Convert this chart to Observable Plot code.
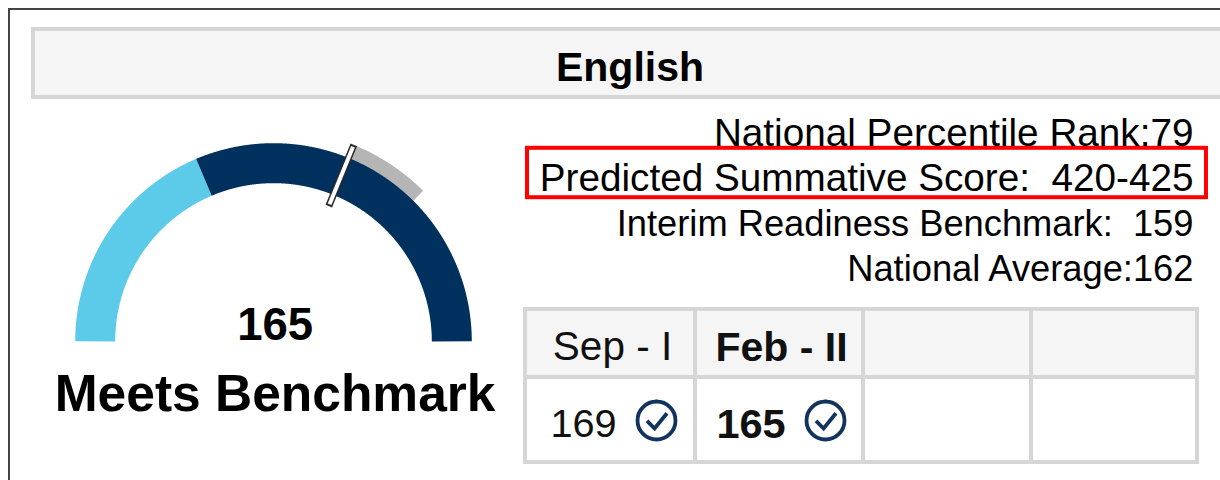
<!DOCTYPE html>
<html>
<head>
<meta charset="utf-8">
<script src="https://cdn.jsdelivr.net/npm/d3@7"></script>
<script src="https://cdn.jsdelivr.net/npm/@observablehq/plot@0.6"></script>
<style>
  html, body { margin: 0; padding: 0; background: #fff; }
  #page { position: relative; width: 1220px; height: 480px; overflow: hidden; font-family: "Liberation Sans", Arial, sans-serif; color: #000; }
  #frame { position: absolute; left: 8px; top: 8px; width: 1300px; height: 600px; border: 2px solid #444; box-sizing: border-box; }
  #header { position: absolute; left: 31px; top: 27px; width: 1300px; height: 72px; box-sizing: border-box; background: #f5f5f5; border: 4px solid #d6d6d6; }
  #subject { position: absolute; left: 430px; width: 400px; top: 40px; text-align: center; font-weight: 700; font-size: 41px; line-height: 54px; }
  .layer { position: absolute; }
  .layer svg { overflow: visible; display: block; background: transparent; }
  .layer text { white-space: pre; }
</style>
</head>
<body>
<div id="page">
  <div id="frame"></div>
  <div id="header"></div>
  <div id="subject"></div>
  <div id="gauge" class="layer" style="left:35px; top:103px"></div>
  <div id="metrics" class="layer" style="left:515px; top:90px"></div>
  <div id="table" class="layer" style="left:515px; top:299px"></div>
</div>
<script>
const subject = "English";
const fontFamily = '"Liberation Sans", Arial, sans-serif';

// Gauge values
const gaugeMin = 150.1;
const gaugeMax = 174;
const benchmark = 159;
const score = 165;
const rangeEnd = 168;
const status = "Meets Benchmark";
const colBelow = "#5bcbe9";
const colAbove = "#00305e";
const colRange = "#b5b5b5";

// Metric lines
const metricLabels = ["National Percentile Rank:", "Predicted Summative Score:  ", "Interim Readiness Benchmark:  ", "National Average:"];
const metricValues = ["79", "420-425", "159", "162"];
const highlighted = "Predicted Summative Score:  ";
const narrowed = ["Interim Readiness Benchmark:  ", "National Average:"];

// Table
const periods = ["Sep - I", "Feb - II", "", ""];
const periodScores = [169, 165, null, null];
const currentPeriod = "Feb - II";
const lineColor = "#d6d6d6";
const headFill = "#f5f5f5";
const iconColor = "#12335e";

document.getElementById("subject").textContent = subject;

// ---------- Gauge ----------
const angle = v => Math.PI * (1 - (v - gaugeMin) / (gaugeMax - gaugeMin));
const polar = (v, r) => ({x: r * Math.cos(angle(v)), y: r * Math.sin(angle(v))});
const arc = (a, b, r) => d3.range(a, b, 0.02).concat(b).map(v => polar(v, r));

const bandR = 178 / 198;
const rangeR = 204 / 198;
const gaugeText = (text, y, size) =>
  Plot.text([text], {x: () => 0.008, y: () => y, text: d => d, fontSize: size, fontWeight: 700, fontFamily, fill: "#000", lineAnchor: "bottom"});

document.getElementById("gauge").append(Plot.plot({
  width: 476, height: 337, margin: 0,
  x: {domain: [-1.2, 1.2], axis: null},
  y: {domain: [-0.5, 1.2], axis: null},
  marks: [
    Plot.line(arc(score, rangeEnd, rangeR), {x: "x", y: "y", stroke: colRange, strokeWidth: 16, strokeLinecap: "butt", curve: "linear"}),
    Plot.line(arc(gaugeMin, benchmark, bandR), {x: "x", y: "y", stroke: colBelow, strokeWidth: 40, strokeLinecap: "butt", curve: "linear"}),
    Plot.line(arc(benchmark, gaugeMax, bandR), {x: "x", y: "y", stroke: colAbove, strokeWidth: 40, strokeLinecap: "butt", curve: "linear"}),
    Plot.line([polar(score, 146 / 198), polar(score, 212 / 198)], {x: "x", y: "y", stroke: "#2b2b2b", strokeWidth: 7, strokeLinecap: "butt"}),
    Plot.line([polar(score, 148 / 198), polar(score, 210 / 198)], {x: "x", y: "y", stroke: "#fff", strokeWidth: 4, strokeLinecap: "butt"}),
    gaugeText(String(score), 0.005, 45.5),
    gaugeText(status, -0.352, 51.5)
  ]
}));

// ---------- Metrics ----------
const metricRows = metricLabels.map((label, i) => ({label, text: label + metricValues[i]}));
document.getElementById("metrics").append(Plot.plot({
  width: 705, height: 214.67, marginTop: 14, marginBottom: 18, marginLeft: 12, marginRight: 14,
  x: {domain: [0, 1], axis: null},
  y: {domain: metricLabels, padding: 0, axis: null},
  marks: [
    Plot.barX(metricRows.filter(d => d.label === highlighted), {x1: () => 0, x2: () => 1, y: "label", fill: "none", stroke: "#ff0000", strokeWidth: 4, insetTop: -2.2, insetBottom: -2.2}),
    Plot.text(metricRows, {x: () => 1, y: "label", text: "text", textAnchor: "end", dx: -13, dy: 6, fontSize: d => narrowed.includes(d.label) ? 36.3 : 38.7, fontFamily, fill: "#000"})
  ]
}));

// ---------- Table ----------
const colEdges = [0, 170, 338, 506, 672];
const rowEdges = {head: [0, 68], body: [68, 153]};
const rows = periods.map((period, i) => ({x1: colEdges[i], x2: colEdges[i + 1], mid: (colEdges[i] + colEdges[i + 1]) / 2, period, value: periodScores[i]}));
const scored = rows.filter(d => d.value != null);
const checkIcon = {
  draw(ctx, size) {
    const r = Math.sqrt(size / Math.PI);
    ctx.moveTo(r, 0);
    ctx.arc(0, 0, r, 0, 2 * Math.PI);
    ctx.moveTo(-r * 0.5, r * 0.02);
    ctx.lineTo(-r * 0.1, r * 0.42);
    ctx.lineTo(r * 0.55, -r * 0.38);
    ctx.moveTo(0, -r);
    ctx.lineTo(0, -r - 2);
  }
};
const isCurrent = d => d.period === currentPeriod;
const cellMark = ([y1, y2], fill) =>
  Plot.rect(rows, {x1: "x1", x2: "x2", y1: () => y1, y2: () => y2, fill, stroke: lineColor, strokeWidth: 4});
const headMark = (data, bold, fontSize) =>
  Plot.text(data, {x: "mid", y: () => 38, text: "period", dx: 2, fontSize, fontWeight: bold ? 700 : 400, fontFamily, fill: "#111"});
const valueMark = (data, bold, dx, fontSize) =>
  Plot.text(data, {x: "mid", y: () => 115, text: d => String(d.value), dx, fontSize, fontWeight: bold ? 700 : 400, fontFamily, fill: "#111"});

document.getElementById("table").append(Plot.plot({
  width: 695, height: 170, marginTop: 10, marginBottom: 7, marginLeft: 10, marginRight: 13,
  x: {domain: [0, 672], axis: null},
  y: {domain: [153, 0], axis: null},
  marks: [
    cellMark(rowEdges.head, headFill),
    cellMark(rowEdges.body, "#fff"),
    headMark(scored.filter(d => !isCurrent(d)), false, 40.5),
    headMark(scored.filter(isCurrent), true, 41),
    valueMark(scored.filter(d => !isCurrent(d)), false, -27, 39.7),
    valueMark(scored.filter(isCurrent), true, -28.5, 41.5),
    Plot.dot(scored, {x: "mid", y: () => 111, r: 19, dx: 46, symbol: checkIcon, stroke: iconColor, strokeWidth: 3.8, fill: "none"})
  ]
}));
</script>
</body>
</html>
